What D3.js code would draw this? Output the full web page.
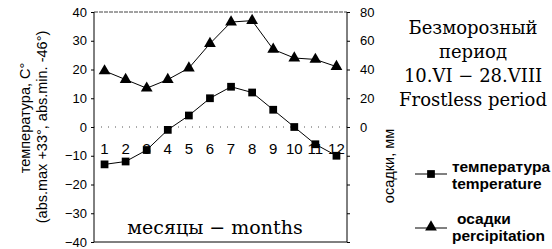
<!DOCTYPE html>
<html><head><meta charset="utf-8">
<script src="https://cdn.jsdelivr.net/npm/d3@7"></script>
<style>body{margin:0;background:#fff}svg{display:block}</style>
</head><body><svg id="c" width="552" height="249"></svg>
<script>
const months = [1,2,3,4,5,6,7,8,9,10,11,12];
const temperature = [-13,-12,-8,-1,4,10,14,12,6,0,-6,-10];
const precipitation = [39,33,27,33,41,58,73,74,54,48,47,42];
const leftTicks = [-40,-30,-20,-10,0,10,20,30,40];
const rightTicks = [-80,-60,-40,-20,0,20,40,60,80];
const rightLabelTicks = [0,20,40,60,80];

const svg = d3.select("#c");
const L=94, R=347, T=12, B=242;
const x = d3.scalePoint().domain(months).range([L,R]).padding(0.5);
const yT = d3.scaleLinear().domain([-40,40]).range([B,T]);
const yP = d3.scaleLinear().domain([-80,80]).range([B,T]);
const sans = "Liberation Sans, Arial, sans-serif";
const serif = "DejaVu Serif, serif";

// frame
svg.append("line").attr("x1",L).attr("x2",R).attr("y1",T).attr("y2",T).attr("stroke","#444").attr("stroke-width",1).attr("stroke-dasharray","4,1");
svg.append("line").attr("x1",L).attr("x2",L).attr("y1",T).attr("y2",B).attr("stroke","#000");
svg.append("line").attr("x1",R).attr("x2",R).attr("y1",T).attr("y2",B).attr("stroke","#000");
svg.append("line").attr("x1",L).attr("x2",R).attr("y1",B).attr("y2",B).attr("stroke","#000");
// zero line dotted
svg.append("line").attr("x1",L).attr("x2",R).attr("y1",yT(0)).attr("y2",yT(0)).attr("stroke","#555").attr("stroke-dasharray","1,6");

// axes
const la = svg.append("g").attr("transform",`translate(${L},0)`).call(d3.axisLeft(yT).tickValues(leftTicks).tickSize(3).tickPadding(4));
la.select(".domain").remove();
la.selectAll("text").attr("font-family",sans).attr("font-size",13).attr("fill","#000");
const ra = svg.append("g").attr("transform",`translate(${R},0)`).call(d3.axisRight(yP).tickValues(rightTicks).tickSize(3).tickPadding(10).tickFormat(d=>rightLabelTicks.includes(d)?d:""));
ra.select(".domain").remove();
ra.selectAll("text").attr("font-family",sans).attr("font-size",13).attr("fill","#000");

// month labels
svg.append("g").selectAll("text").data(months).join("text")
  .attr("x",d=>x(d)).attr("y",154).attr("text-anchor","middle")
  .attr("font-family",sans).attr("font-size",15).text(d=>d);

// lines
const lt = d3.line().x((d,i)=>x(months[i])).y(d=>yT(d));
const lp = d3.line().x((d,i)=>x(months[i])).y(d=>yP(d));
svg.append("path").attr("d",lt(temperature)).attr("fill","none").attr("stroke","#000").attr("stroke-width",1);
svg.append("path").attr("d",lp(precipitation)).attr("fill","none").attr("stroke","#000").attr("stroke-width",1);
const sq = d3.symbol().type(d3.symbolSquare).size(60);
const tr = d3.symbol().type(d3.symbolTriangle).size(60);
svg.append("g").selectAll("path").data(temperature).join("path")
  .attr("d",sq).attr("transform",(d,i)=>`translate(${x(months[i])},${yT(d)})`).attr("fill","#000");
svg.append("g").selectAll("path").data(precipitation).join("path")
  .attr("d",tr).attr("transform",(d,i)=>`translate(${x(months[i])},${yP(d)})`).attr("fill","#000");

// axis titles
svg.append("text").attr("transform","translate(30,118) rotate(-90)").attr("text-anchor","middle")
  .attr("font-family",sans).attr("font-size",14.5).text("температура, C°");
svg.append("text").attr("transform","translate(47,127) rotate(-90)").attr("text-anchor","middle")
  .attr("font-family",sans).attr("font-size",14.5).text("(abs.max +33°, abs.min. -46°)");
svg.append("text").attr("transform","translate(394,166) rotate(-90)").attr("text-anchor","middle")
  .attr("font-family",sans).attr("font-size",14.5).text("осадки, мм");

svg.append("text").attr("x",215).attr("y",234).attr("text-anchor","middle")
  .attr("font-family",serif).attr("font-size",19).text("месяцы − months");

// right text block
const block = ["Безморозный","период","10.VI − 28.VIII","Frostless period"];
svg.append("g").selectAll("text").data(block).join("text")
  .attr("x",473).attr("y",(d,i)=>34+i*24).attr("text-anchor","middle")
  .attr("font-family",serif).attr("font-size",18).text(d=>d);

// legend
svg.append("line").attr("x1",415).attr("x2",447).attr("y1",174).attr("y2",174).attr("stroke","#000");
svg.append("path").attr("d",sq).attr("transform","translate(431,174)");
svg.append("line").attr("x1",415).attr("x2",447).attr("y1",228).attr("y2",228).attr("stroke","#000");
svg.append("path").attr("d",tr).attr("transform","translate(431,227)");
const lg = [["температура",452,172],["temperature",452,189],["осадки",457,224],["percipitation",452,241]];
svg.append("g").selectAll("text").data(lg).join("text")
  .attr("x",d=>d[1]).attr("y",d=>d[2]).attr("font-family",sans).attr("font-weight","bold").attr("font-size",15.5).text(d=>d[0]);
</script></body></html>
